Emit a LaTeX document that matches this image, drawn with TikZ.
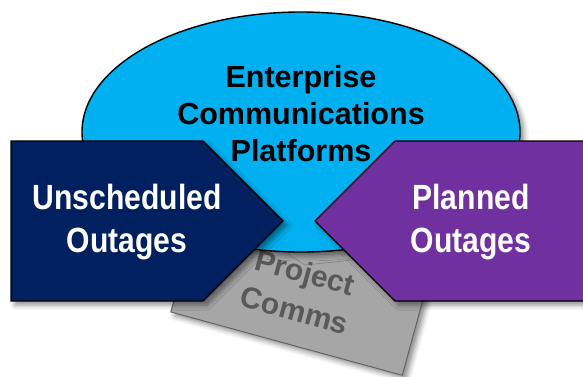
\documentclass[tikz,border=0pt]{standalone}
\usepackage{fontspec}
\setmainfont{Liberation Sans}
\newfontfamily\narrowsans{Liberation Sans}[FakeStretch=0.86]
\usetikzlibrary{shapes.geometric,shadows.blur}
\definecolor{platcyan}{HTML}{00B0F0}
\definecolor{unschednavy}{HTML}{002060}
\definecolor{plannedpurple}{HTML}{7030A0}
\definecolor{commsgray}{HTML}{A6A6A6}
\definecolor{commsedge}{HTML}{606060}
\definecolor{commstext}{HTML}{595959}

\begin{document}
\begin{tikzpicture}[x=1pt,y=-1pt,
  softshadow/.style={blur shadow={shadow xshift=4pt, shadow yshift=-4pt,
      shadow blur radius=5pt, shadow opacity=45}},
  outline/.style={draw=black, line width=1.4pt, line join=miter},
  platlabel/.style={font=\bfseries\fontsize{30.5}{37}\selectfont, align=center, text=black},
  arrowlabel/.style={font=\narrowsans\bfseries\fontsize{35}{43}\selectfont, align=center, text=white},
  commslabel/.style={font=\bfseries\fontsize{30}{39}\selectfont, align=center, text=commstext},
]
\useasboundingbox (0,0) rectangle (583,377);

% tilted grey card behind everything
\begin{scope}[shift={(300.5,292.5)}, rotate=-15.3]
  \path[fill=commsgray, draw=commsedge, line width=0.9pt, softshadow]
    (-120,-53) rectangle (120,53);
\end{scope}
\draw[commsedge!80, line width=0.6pt] (283,251) -- (305,265) -- (362,259);
\node[commslabel, rotate=-15.3] (comms) at (300,291) {Project\\Comms};

% central ellipse
\node[ellipse, fill=platcyan, outline, softshadow, minimum width=438pt,
      minimum height=240pt, inner sep=0pt] (plat) at (301,132) {};
\node[platlabel] (plattext) at (301,114) {Enterprise\\Communications\\Platforms};

% left chevron pointing right
\path[fill=unschednavy, outline, softshadow]
  (11,141) -- (203,141) -- (283,221) -- (203,301) -- (11,301) -- cycle;
\node[arrowlabel] (unsched) at (127,222) {Unscheduled\\Outages};

% right chevron pointing left
\path[fill=plannedpurple, outline, softshadow]
  (600,141) -- (395,141) -- (315,221) -- (395,301) -- (600,301) -- cycle;
\node[arrowlabel] (planned) at (471,222) {Planned\\Outages};
\end{tikzpicture}
\end{document}
